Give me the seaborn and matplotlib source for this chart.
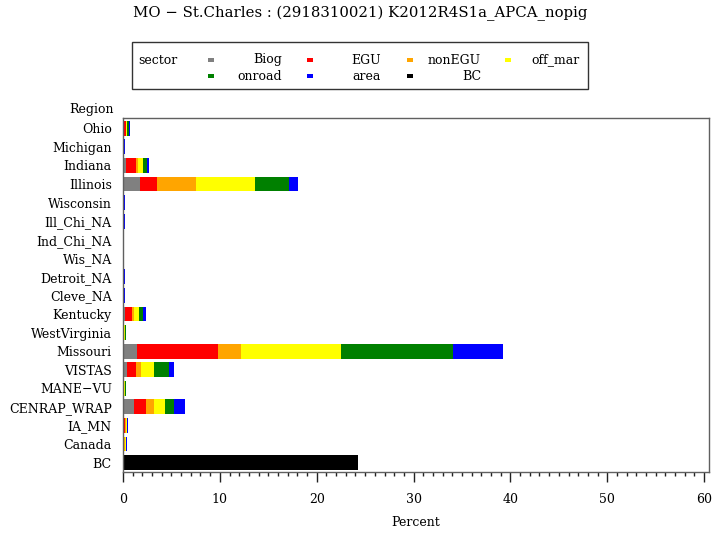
import numpy as np
import pandas as pd
import matplotlib
matplotlib.use("Agg")
import matplotlib.pyplot as plt
from matplotlib.patches import Rectangle
from matplotlib.ticker import MultipleLocator
import seaborn as sns

# ---- data -------------------------------------------------------------
regions = ["Ohio", "Michigan", "Indiana", "Illinois", "Wisconsin", "Ill_Chi_NA",
           "Ind_Chi_NA", "Wis_NA", "Detroit_NA", "Cleve_NA", "Kentucky",
           "WestVirginia", "Missouri", "VISTAS", "MANE\u2212VU", "CENRAP_WRAP",
           "IA_MN", "Canada", "BC"]

sectors = ["Biog", "EGU", "nonEGU", "off_mar", "onroad", "area", "BC"]
sector_colors = ["#808080", "#FF0000", "#FFA500", "#FFFF00", "#008000", "#0000FF", "#000000"]

biog    = [0.03, 0.0, 0.30, 1.75, 0.0, 0.0, 0.0, 0.0, 0.0, 0.0, 0.25, 0.0, 1.45, 0.45, 0.0, 1.10, 0.03, 0.0, 0.0]
egu     = [0.25, 0.0, 1.00, 1.75, 0.0, 0.0, 0.0, 0.0, 0.0, 0.0, 0.70, 0.05, 8.40, 0.90, 0.05, 1.25, 0.15, 0.05, 0.0]
nonegu  = [0.07, 0.0, 0.30, 4.00, 0.0, 0.0, 0.0, 0.0, 0.0, 0.0, 0.20, 0.10, 2.30, 0.50, 0.05, 0.85, 0.10, 0.20, 0.0]
off_mar = [0.10, 0.0, 0.45, 6.10, 0.0, 0.0, 0.0, 0.0, 0.0, 0.0, 0.50, 0.10, 10.35, 1.40, 0.15, 1.10, 0.10, 0.02, 0.0]
onroad  = [0.17, 0.02, 0.40, 3.50, 0.02, 0.02, 0.0, 0.0, 0.02, 0.02, 0.40, 0.02, 11.60, 1.55, 0.02, 1.00, 0.03, 0.01, 0.0]
area    = [0.10, 0.18, 0.20, 1.00, 0.18, 0.18, 0.02, 0.02, 0.18, 0.18, 0.35, 0.05, 5.10, 0.45, 0.06, 1.15, 0.06, 0.10, 0.0]
bc      = [0.0] * 18 + [24.3]

title = "MO \u2212 St.Charles : (2918310021) K2012R4S1a_APCA_nopig"

# ---- figure -----------------------------------------------------------
sns.set_style("white")
plt.rcParams["font.family"] = ["DejaVu Serif"]
plt.rcParams["text.color"] = "black"
plt.rcParams["axes.labelcolor"] = "black"
plt.rcParams["xtick.color"] = "black"
plt.rcParams["ytick.color"] = "black"
FS = 9

W, H = 720, 535
fig = plt.figure(figsize=(W / 100, H / 100), dpi=100)
ax = fig.add_axes([123 / W, 1 - 472 / H, (709 - 123) / W, (472 - 118) / H])

df = pd.DataFrame({"Region": regions, "Biog": biog, "EGU": egu, "nonEGU": nonegu,
                   "off_mar": off_mar, "onroad": onroad, "area": area, "BC": bc})
cum = df[sectors].cumsum(axis=1)

# stacked bars: draw the running totals from the outermost layer inward
for sec, col in reversed(list(zip(sectors, sector_colors))):
    sns.barplot(x=cum[sec], y=df["Region"], order=regions, orient="h",
                color=col, saturation=1, width=0.8, linewidth=0, ax=ax)

ax.set_xlim(0, 60.5)
ax.set_ylim(len(regions) - 0.49, -0.55)
ax.set_ylabel("")
ax.set_xlabel("Percent", fontsize=FS, labelpad=7, color="black")
ax.xaxis.set_major_locator(MultipleLocator(10))
ax.xaxis.set_minor_locator(MultipleLocator(1))
ax.tick_params(axis="x", which="major", direction="out", length=7, width=1,
               color="#222222", labelcolor="black", labelsize=FS, pad=8, bottom=True)
ax.tick_params(axis="x", which="minor", direction="out", length=3, width=1,
               color="#222222", bottom=True)
ax.tick_params(axis="y", length=0, labelsize=FS, labelcolor="black", pad=8)
for s in ax.spines.values():
    s.set_visible(True)
    s.set_color("#606060")
    s.set_linewidth(1.0)

ax.text(-9 / 9.68, -1.0, "Region", ha="right", va="center", fontsize=FS,
        color="black", transform=ax.transData, clip_on=False)

fig.text(0.5, 1 - 13 / H, title, ha="center", va="center", fontsize=10.7,
         color="black")

# ---- legend -----------------------------------------------------------
def fpos(x, y):
    return x / W, 1 - y / H

lx0, ly0, lx1, ly1 = 132, 42, 588, 89
fig.patches.append(Rectangle(fpos(lx0, ly1), (lx1 - lx0) / W, (ly1 - ly0) / H,
                             transform=fig.transFigure, fill=False,
                             edgecolor="#333333", linewidth=1.0))
fig.text(*fpos(138, 60), "sector", ha="left", va="center", fontsize=FS, color="black")
marker_x = [211, 310, 410, 508]
label_right = [282, 381, 481, 580]
row_y = [60, 76]
for i, (sec, col) in enumerate(zip(sectors, sector_colors)):
    r, c = divmod(i, 4)
    mx, my = marker_x[c], row_y[r]
    fig.patches.append(Rectangle(fpos(mx - 3, my + 2), 6 / W, 4 / H,
                                 transform=fig.transFigure, facecolor=col,
                                 edgecolor="none"))
    fig.text(*fpos(label_right[c], my), sec, ha="right", va="center",
             fontsize=FS, color="black")

fig.savefig("out.png", dpi=100)
